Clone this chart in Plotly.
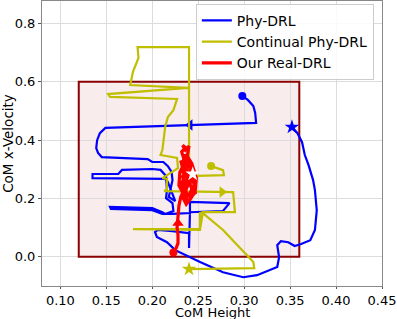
import plotly.graph_objects as go

# ---- data ----
phy_x = [0.298, 0.304, 0.310, 0.312, 0.313, 0.241, 0.149, 0.143, 0.140, 0.139, 0.141, 0.145,
         0.195, 0.200, 0.212, 0.217, 0.221, 0.222, 0.220, 0.218, 0.225, 0.221, 0.217, 0.214,
         0.135, 0.135, 0.163, 0.167, 0.200, 0.209, 0.215, 0.216, 0.215, 0.222, 0.223, 0.214,
         0.211, 0.200, 0.154, 0.155, 0.200, 0.211, 0.222, 0.241, 0.241, 0.284, 0.277, 0.241,
         0.240, 0.240, 0.222, 0.206, 0.203, 0.205, 0.216, 0.225, 0.252, 0.277, 0.299, 0.314,
         0.336, 0.338, 0.336, 0.340, 0.348, 0.355, 0.362, 0.372, 0.377, 0.379, 0.377, 0.375,
         0.370, 0.366, 0.363, 0.358, 0.352]
phy_y = [0.551, 0.538, 0.517, 0.493, 0.459, 0.452, 0.442, 0.424, 0.400, 0.373, 0.356, 0.342,
         0.335, 0.325, 0.325, 0.311, 0.291, 0.263, 0.229, 0.205, 0.191, 0.222, 0.256, 0.267,
         0.270, 0.284, 0.284, 0.298, 0.301, 0.298, 0.277, 0.229, 0.201, 0.184, 0.157, 0.147,
         0.153, 0.167, 0.171, 0.164, 0.160, 0.147, 0.147, 0.150, 0.188, 0.184, 0.157, 0.153,
         0.030, 0.081, 0.088, 0.092, 0.085, 0.068, 0.050, 0.023, -0.018, -0.053, -0.070, -0.063,
         -0.035, -0.001, 0.040, 0.054, 0.050, 0.037, 0.044, 0.057, 0.092, 0.160, 0.229, 0.263,
         0.315, 0.349, 0.393, 0.424, 0.445]
phy_arrow = (0.241, 0.452)

cont_x = [0.264, 0.277, 0.278, 0.245, 0.240, 0.240, 0.184, 0.185, 0.179, 0.176, 0.239, 0.152,
          0.154, 0.227, 0.223, 0.217, 0.214, 0.211, 0.209, 0.227, 0.228, 0.211, 0.216, 0.216,
          0.213, 0.288, 0.290, 0.255, 0.252, 0.252, 0.179, 0.252, 0.255, 0.277, 0.298, 0.310,
          0.311, 0.240]
cont_y = [0.311, 0.297, 0.280, 0.277, 0.277, 0.719, 0.719, 0.682, 0.634, 0.589, 0.579, 0.558,
          0.548, 0.541, 0.503, 0.479, 0.445, 0.366, 0.349, 0.339, 0.304, 0.270, 0.267, 0.232,
          0.225, 0.222, 0.153, 0.153, 0.150, 0.092, 0.095, 0.095, 0.150, 0.092, 0.023, -0.018,
          -0.039, -0.042]
cont_arrow = (0.276, 0.222)

real_x = [0.223, 0.226, 0.228, 0.228, 0.227, 0.228, 0.229, 0.231, 0.236, 0.233, 0.238, 0.241,
          0.236, 0.232, 0.239, 0.234, 0.232, 0.236, 0.233, 0.236, 0.240, 0.238, 0.243, 0.246,
          0.241, 0.245, 0.239, 0.234, 0.229, 0.230, 0.235, 0.244, 0.248, 0.247, 0.242, 0.237,
          0.233, 0.238, 0.242, 0.240, 0.236, 0.231, 0.233, 0.237, 0.245, 0.247, 0.243, 0.238,
          0.235, 0.239, 0.246, 0.241, 0.235, 0.232, 0.240, 0.244]
real_y = [0.015, 0.030, 0.047, 0.075, 0.100, 0.140, 0.175, 0.205, 0.240, 0.275, 0.300, 0.262,
          0.225, 0.250, 0.315, 0.340, 0.360, 0.375, 0.382, 0.366, 0.380, 0.345, 0.320, 0.290,
          0.250, 0.215, 0.190, 0.215, 0.245, 0.290, 0.320, 0.300, 0.270, 0.230, 0.200, 0.180,
          0.205, 0.260, 0.300, 0.335, 0.300, 0.330, 0.305, 0.275, 0.255, 0.215, 0.235, 0.270,
          0.240, 0.205, 0.250, 0.325, 0.350, 0.295, 0.265, 0.284]
real_arrow = (0.228, 0.115)

safe_x = [0.12, 0.36]
safe_y = [0.0, 0.6]

x_ticks = [0.10, 0.15, 0.20, 0.25, 0.30, 0.35, 0.40, 0.45]
x_labels = ["0.10", "0.15", "0.20", "0.25", "0.30", "0.35", "0.40", "0.45"]
y_ticks = [0.0, 0.2, 0.4, 0.6, 0.8]
y_labels = ["0.0", "0.2", "0.4", "0.6", "0.8"]
x_title = "CoM Height"
y_title = "CoM x-Velocity"

BLUE = "#0000FF"
YEL = "#BFBF00"
RED = "#FF0000"

fig = go.Figure()

series = [
    ("Phy-DRL", phy_x, phy_y, BLUE, 2.2, phy_arrow, "triangle-left"),
    ("Continual Phy-DRL", cont_x, cont_y, YEL, 2.2, cont_arrow, "triangle-right"),
    ("Our Real-DRL", real_x, real_y, RED, 3.2, real_arrow, "triangle-up"),
]
for name, xs, ys, col, w, arr, sym in series:
    fig.add_trace(go.Scatter(x=xs, y=ys, mode="lines", name=name,
                             line=dict(color=col, width=w)))
    fig.add_trace(go.Scatter(x=[xs[0]], y=[ys[0]], mode="markers", showlegend=False,
                             marker=dict(color=col, size=8, symbol="circle")))
    fig.add_trace(go.Scatter(x=[arr[0]], y=[arr[1]], mode="markers", showlegend=False,
                             marker=dict(color=col, size=10, symbol=sym)))
    star_col = "white" if name == "Our Real-DRL" else col
    fig.add_trace(go.Scatter(x=[xs[-1]], y=[ys[-1]], mode="markers", showlegend=False,
                             marker=dict(color=star_col, size=11, symbol="star",
                                         line=dict(width=0))))

fig.add_shape(type="rect", x0=safe_x[0], x1=safe_x[1], y0=safe_y[0], y1=safe_y[1],
              xref="x", yref="y", layer="below", line=dict(width=0),
              fillcolor="#F9ECEC")
fig.add_shape(type="rect", x0=safe_x[0], x1=safe_x[1], y0=safe_y[0], y1=safe_y[1],
              xref="x", yref="y", layer="between", line=dict(color="#8B0000", width=2),
              fillcolor="rgba(0,0,0,0)")

FONT = "DejaVu Sans"
axis_common = dict(showgrid=True, gridcolor="#DCDCDC", gridwidth=1, zeroline=False,
                   showline=True, linecolor="#888888", linewidth=1, mirror=True,
                   ticks="outside", tickcolor="#555555", automargin=False,
                   tickfont=dict(family=FONT, size=13, color="black"))
fig.update_xaxes(range=[0.08, 0.45], tickvals=x_ticks, ticktext=x_labels,
                 ticklen=2, **axis_common)
fig.update_yaxes(range=[-0.1, 0.877], tickvals=y_ticks, ticktext=y_labels, ticklen=3,
                 title=dict(text=y_title, font=dict(family=FONT, size=13.5, color="black"),
                            standoff=3), **axis_common)

fig.add_annotation(text=x_title, xref="paper", yref="paper", x=0.5, y=-0.093,
                   xanchor="center", yanchor="middle", showarrow=False,
                   font=dict(family=FONT, size=13, color="black"))

fig.update_layout(
    width=397, height=319,
    margin=dict(l=42, r=15, t=1, b=33),
    paper_bgcolor="white", plot_bgcolor="white",
    font=dict(family=FONT, color="black"),
    legend=dict(x=0.976, y=0.99, xanchor="right", yanchor="top",
                bgcolor="rgba(255,255,255,0.85)", bordercolor="#CCCCCC", borderwidth=1,
                font=dict(family=FONT, size=14, color="black"),
                itemwidth=30, tracegroupgap=0),
)

fig.write_html("out.html", config={"displayModeBar": False},
               post_script="document.body.style.margin='0px';document.body.style.padding='0px';")
